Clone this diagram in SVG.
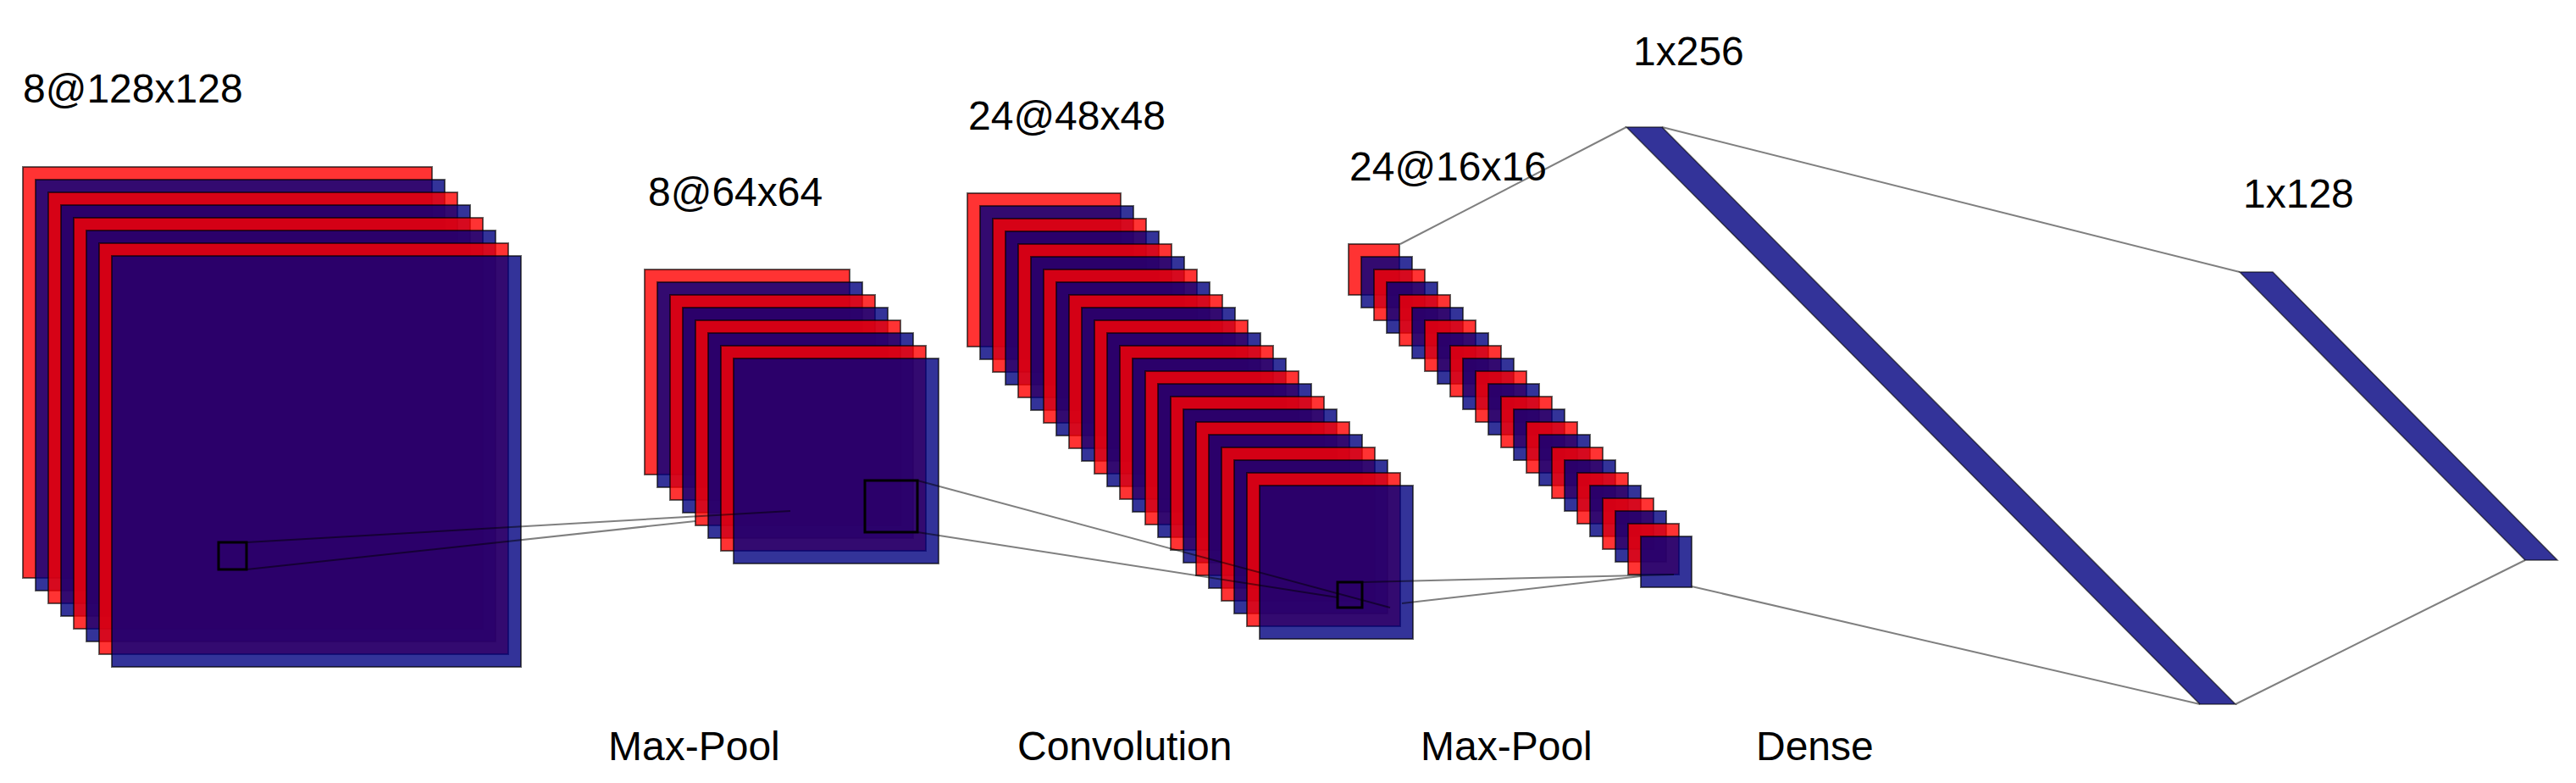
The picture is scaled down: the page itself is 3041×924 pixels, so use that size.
<svg xmlns="http://www.w3.org/2000/svg" width="3041" height="924" viewBox="0 0 3041 924">
<style>
.r{fill:#ff0000;fill-opacity:.8;stroke:#000;stroke-width:2;stroke-opacity:.6}
.b{fill:#000080;fill-opacity:.8;stroke:#000;stroke-width:2;stroke-opacity:.6}
.d{fill:#333399;stroke:#000;stroke-width:1.5;stroke-opacity:.6}
.c{fill:none;stroke:#000;stroke-width:2;stroke-opacity:.5}
.k{fill:none;stroke:#000;stroke-width:3}
text{font-family:"Liberation Sans",Arial,sans-serif;font-size:48px;fill:#000}
</style>
<rect width="3041" height="924" fill="#fff"/>
<g id="stack1">
<rect class="r" x="27" y="197" width="483" height="485"/>
<rect class="b" x="42" y="212" width="483" height="485"/>
<rect class="r" x="57" y="227" width="483" height="485"/>
<rect class="b" x="72" y="242" width="483" height="485"/>
<rect class="r" x="87" y="257" width="483" height="485"/>
<rect class="b" x="102" y="272" width="483" height="485"/>
<rect class="r" x="117" y="287" width="483" height="485"/>
<rect class="b" x="132" y="302" width="483" height="485"/>
<rect class="k" x="258" y="640" width="33" height="32"/>
</g>
<g id="stack2">
<rect class="r" x="761" y="318" width="242" height="242"/>
<rect class="b" x="776" y="333" width="242" height="242"/>
<rect class="r" x="791" y="348" width="242" height="242"/>
<rect class="b" x="806" y="363" width="242" height="242"/>
<rect class="r" x="821" y="378" width="242" height="242"/>
<rect class="b" x="836" y="393" width="242" height="242"/>
<rect class="r" x="851" y="408" width="242" height="242"/>
<rect class="b" x="866" y="423" width="242" height="242"/>
<rect class="k" x="1021" y="567" width="62" height="61"/>
</g>
<g id="stack3">
<rect class="r" x="1142" y="228" width="181" height="181"/>
<rect class="b" x="1157" y="243" width="181" height="181"/>
<rect class="r" x="1172" y="258" width="181" height="181"/>
<rect class="b" x="1187" y="273" width="181" height="181"/>
<rect class="r" x="1202" y="288" width="181" height="181"/>
<rect class="b" x="1217" y="303" width="181" height="181"/>
<rect class="r" x="1232" y="318" width="181" height="181"/>
<rect class="b" x="1247" y="333" width="181" height="181"/>
<rect class="r" x="1262" y="348" width="181" height="181"/>
<rect class="b" x="1277" y="363" width="181" height="181"/>
<rect class="r" x="1292" y="378" width="181" height="181"/>
<rect class="b" x="1307" y="393" width="181" height="181"/>
<rect class="r" x="1322" y="408" width="181" height="181"/>
<rect class="b" x="1337" y="423" width="181" height="181"/>
<rect class="r" x="1352" y="438" width="181" height="181"/>
<rect class="b" x="1367" y="453" width="181" height="181"/>
<rect class="r" x="1382" y="468" width="181" height="181"/>
<rect class="b" x="1397" y="483" width="181" height="181"/>
<rect class="r" x="1412" y="498" width="181" height="181"/>
<rect class="b" x="1427" y="513" width="181" height="181"/>
<rect class="r" x="1442" y="528" width="181" height="181"/>
<rect class="b" x="1457" y="543" width="181" height="181"/>
<rect class="r" x="1472" y="558" width="181" height="181"/>
<rect class="b" x="1487" y="573" width="181" height="181"/>
<rect class="k" x="1579" y="687" width="29" height="30" stroke-width="2.5"/>
</g>
<g id="stack4">
<rect class="r" x="1592" y="288" width="60" height="60"/>
<rect class="b" x="1607" y="303" width="60" height="60"/>
<rect class="r" x="1622" y="318" width="60" height="60"/>
<rect class="b" x="1637" y="333" width="60" height="60"/>
<rect class="r" x="1652" y="348" width="60" height="60"/>
<rect class="b" x="1667" y="363" width="60" height="60"/>
<rect class="r" x="1682" y="378" width="60" height="60"/>
<rect class="b" x="1697" y="393" width="60" height="60"/>
<rect class="r" x="1712" y="408" width="60" height="60"/>
<rect class="b" x="1727" y="423" width="60" height="60"/>
<rect class="r" x="1742" y="438" width="60" height="60"/>
<rect class="b" x="1757" y="453" width="60" height="60"/>
<rect class="r" x="1772" y="468" width="60" height="60"/>
<rect class="b" x="1787" y="483" width="60" height="60"/>
<rect class="r" x="1802" y="498" width="60" height="60"/>
<rect class="b" x="1817" y="513" width="60" height="60"/>
<rect class="r" x="1832" y="528" width="60" height="60"/>
<rect class="b" x="1847" y="543" width="60" height="60"/>
<rect class="r" x="1862" y="558" width="60" height="60"/>
<rect class="b" x="1877" y="573" width="60" height="60"/>
<rect class="r" x="1892" y="588" width="60" height="60"/>
<rect class="b" x="1907" y="603" width="60" height="60"/>
<rect class="r" x="1922" y="618" width="60" height="60"/>
<rect class="b" x="1937" y="633" width="60" height="60"/>
</g>
<g id="dense1"><polygon class="d" points="1920,150 1962,150 2639,831 2597,831"/></g>
<g id="dense2"><polygon class="d" points="2644,321 2683,321 3019,661 2981,661"/></g>
<g id="connectors">
<line class="c" x1="291" y1="640" x2="933" y2="603"/>
<line class="c" x1="291" y1="672" x2="821" y2="615"/>
<line class="c" x1="1083" y1="567" x2="1641" y2="717"/>
<line class="c" x1="1083" y1="628" x2="1579" y2="705"/>
<line class="c" x1="1608" y1="687" x2="1976" y2="678"/>
<line class="c" x1="1655" y1="712" x2="1937" y2="680"/>
<line class="c" x1="1920" y1="150" x2="1653" y2="288"/>
<line class="c" x1="1997" y1="692" x2="2597" y2="831"/>
<line class="c" x1="1962" y1="150" x2="2644" y2="321"/>
<line class="c" x1="2639" y1="831" x2="2981" y2="661"/>
</g>
<g id="labels">
<text x="27" y="121">8@128x128</text>
<text x="765" y="243">8@64x64</text>
<text x="1143" y="153">24@48x48</text>
<text x="1593" y="213">24@16x16</text>
<text x="1928" y="77">1x256</text>
<text x="2648" y="245">1x128</text>
<text x="718" y="897">Max-Pool</text>
<text x="1201" y="897">Convolution</text>
<text x="1677" y="897">Max-Pool</text>
<text x="2073" y="897">Dense</text>
</g>
</svg>
